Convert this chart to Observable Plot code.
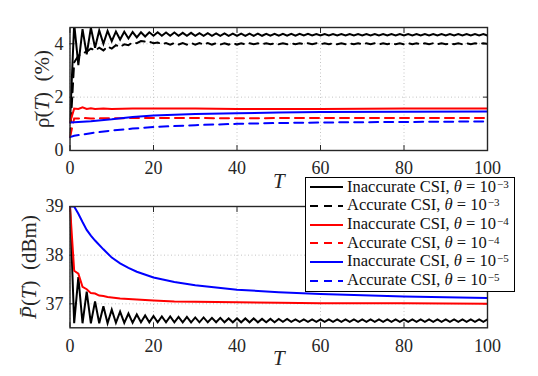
<!DOCTYPE html>
<html><head><meta charset="utf-8">
<script src="https://cdn.jsdelivr.net/npm/d3@7"></script>
<script src="https://cdn.jsdelivr.net/npm/@observablehq/plot@0.6"></script>
<style>
html,body{margin:0;padding:0;background:#fff;}
#wrap{position:relative;width:538px;height:376px;overflow:hidden;font-family:'Liberation Serif','Times New Roman','DejaVu Serif',serif;background:#fff;}
#wrap svg.plot{position:absolute;left:0;}
#wrap svg text{font-family:'Liberation Serif','Times New Roman','DejaVu Serif',serif;}
#legend{position:absolute;left:305px;top:177px;width:210px;height:115px;box-sizing:border-box;border:1px solid #000;background:#fff;padding-top:0px;font-size:16.5px;color:#111;}
#legend .row{height:18.7px;line-height:18.7px;white-space:nowrap;display:flex;align-items:center;}
#legend svg{margin-left:4px;margin-right:4px;flex:none;}
#legend .sup{font-size:11px;position:relative;top:-0.35em;margin-left:1px;}
</style></head>
<body><div id="wrap"></div>
<script>
// ---------- data ----------
const xTicks = [0, 20, 40, 60, 80, 100];
const rhoTicks = [0, 2, 4];
const powTicks = [37, 38, 39];
const seriesNames = ["Inaccurate CSI", "Accurate CSI", "Inaccurate CSI", "Accurate CSI", "Inaccurate CSI", "Accurate CSI"];
const seriesExp = ["−3", "−3", "−4", "−4", "−5", "−5"];

// step index T = 0..100 for the full (oscillating) series
const stepT = d3.range(0, 101);

// top panel: rho(T) in %
const rhoBlackInacc = [
1.05,4.75,3.20,4.55,3.60,4.60,3.85,4.50,4.00,4.48,
4.10,4.46,4.16,4.45,4.20,4.44,4.24,4.43,4.27,4.43,
4.30,4.43,4.30,4.42,4.30,4.42,4.30,4.41,4.30,4.41,
4.30,4.40,4.30,4.40,4.30,4.39,4.30,4.39,4.30,4.38,
4.30,4.38,4.30,4.38,4.30,4.38,4.30,4.37,4.30,4.37,
4.30,4.37,4.30,4.37,4.30,4.37,4.31,4.37,4.31,4.36,
4.31,4.36,4.31,4.36,4.31,4.36,4.31,4.36,4.31,4.36,
4.31,4.36,4.31,4.36,4.31,4.36,4.31,4.36,4.31,4.36,
4.31,4.36,4.31,4.36,4.31,4.36,4.31,4.36,4.31,4.36,
4.31,4.36,4.31,4.36,4.31,4.36,4.31,4.36,4.31,4.36,
4.31];
const rhoBlackAcc = [
0.50,3.30,3.55,3.65,3.70,3.82,3.75,3.85,3.75,3.90,
3.82,3.95,3.88,3.98,3.95,4.05,4.02,4.10,4.08,4.08,
4.02,4.05,3.98,4.03,3.97,4.03,3.97,4.03,3.97,4.03,
3.97,4.03,3.97,4.03,3.97,4.02,3.97,4.02,3.97,4.02,
3.97,4.02,3.98,4.02,3.98,4.02,3.98,4.02,3.98,4.02,
3.98,4.02,3.98,4.02,3.98,4.02,3.98,4.02,3.98,4.02,
3.98,4.02,3.98,4.02,3.98,4.02,3.98,4.02,3.98,4.02,
3.98,4.02,3.98,4.02,3.98,4.02,3.98,4.02,3.98,4.02,
3.98,4.02,3.98,4.02,3.98,4.02,3.98,4.02,3.98,4.02,
3.98,4.02,3.98,4.02,3.98,4.02,3.98,4.02,3.98,4.02,
4.00];
const rhoRedInaccT = [0, 1, 2, 3, 4, 5, 6, 8, 10, 15, 20, 30, 40, 60, 80, 100];
const rhoRedInacc  = [1.05, 1.57, 1.56, 1.62, 1.56, 1.58, 1.56, 1.57, 1.56, 1.57, 1.57, 1.57, 1.56, 1.56, 1.57, 1.57];
const rhoRedAccT = [0, 1, 2, 3, 5, 10, 20, 40, 60, 100];
const rhoRedAcc  = [0.50, 1.20, 1.20, 1.22, 1.20, 1.21, 1.22, 1.21, 1.22, 1.22];
const rhoBlueInaccT = [0, 1, 2, 5, 10, 15, 20, 25, 30, 40, 50, 60, 80, 100];
const rhoBlueInacc  = [1.05, 1.06, 1.07, 1.10, 1.17, 1.26, 1.31, 1.34, 1.37, 1.40, 1.42, 1.44, 1.45, 1.46];
const rhoBlueAccT = [0, 1, 5, 10, 15, 20, 30, 40, 50, 60, 80, 100];
const rhoBlueAcc  = [0.50, 0.55, 0.65, 0.75, 0.82, 0.88, 0.95, 1.00, 1.03, 1.05, 1.07, 1.09];

// bottom panel: P(T) in dBm
const powBlackInacc = [
39.00,36.60,37.55,36.60,37.25,36.60,37.05,36.60,36.95,36.60,
36.88,36.61,36.84,36.61,36.80,36.61,36.78,36.62,36.76,36.62,
36.75,36.62,36.74,36.62,36.74,36.62,36.73,36.62,36.73,36.62,
36.72,36.62,36.72,36.62,36.71,36.62,36.71,36.62,36.70,36.62,
36.70,36.62,36.70,36.62,36.70,36.62,36.69,36.62,36.69,36.62,
36.69,36.63,36.69,36.63,36.68,36.63,36.68,36.63,36.68,36.63,
36.68,36.63,36.68,36.63,36.68,36.63,36.68,36.63,36.68,36.63,
36.68,36.63,36.68,36.63,36.68,36.63,36.68,36.63,36.68,36.63,
36.68,36.63,36.68,36.63,36.68,36.63,36.68,36.63,36.68,36.63,
36.68,36.63,36.68,36.63,36.68,36.63,36.68,36.63,36.68,36.63,
36.68];
const powRedT = [0, 1, 2, 3, 4, 5, 6, 7, 8, 9, 10, 12, 14, 16, 18, 20, 25, 30, 40, 50, 60, 80, 100];
const powRed  = [39.00, 37.68, 37.62, 37.35, 37.30, 37.22, 37.21, 37.17, 37.16, 37.14, 37.13, 37.11, 37.10, 37.09, 37.08, 37.07, 37.05, 37.04, 37.03, 37.02, 37.01, 37.01, 37.00];
const powBlueT = [0, 1, 2, 3, 4, 5, 6, 8, 10, 12, 14, 16, 20, 25, 30, 40, 50, 60, 80, 100];
const powBlue  = [39.00, 39.00, 38.85, 38.68, 38.52, 38.40, 38.30, 38.12, 37.95, 37.83, 37.74, 37.66, 37.54, 37.45, 37.38, 37.29, 37.24, 37.20, 37.15, 37.12];

// ---------- styles ----------
const colors = ["#000000", "#000000", "#ff0000", "#ff0000", "#0000ff", "#0000ff"];
const dashed = [false, true, false, true, false, true];
const DASH = "9,6";
const AX = "#262626";
const FONT = "'Liberation Serif','Times New Roman','DejaVu Serif',serif";

const toRows = (T, V) => T.map((t, i) => ({T: t, v: V[i]}));
const full = V => toRows(stepT, V);

function lineMark(rows, k) {
  return Plot.line(rows, {x: "T", y: "v", stroke: colors[k], strokeWidth: 2,
    strokeDasharray: dashed[k] ? DASH : null, clip: true, strokeLinejoin: "miter", strokeMiterlimit: 4});
}

function axes(yTicks) {
  const common = {stroke: AX, color: AX, label: null, tickSize: -5, fontSize: 18};
  const grid = {stroke: "#c4c4c4", strokeOpacity: 1, strokeWidth: 1, strokeDasharray: "1,2.5"};
  return [
    Plot.gridX(xTicks, grid),
    Plot.gridY(yTicks, grid),
    Plot.axisX(xTicks, {...common, anchor: "bottom", tickPadding: 16}),
    Plot.axisX(xTicks, {...common, anchor: "top", tickFormat: () => ""}),
    Plot.axisY(yTicks, {...common, anchor: "left", tickPadding: 11.5}),
    Plot.axisY(yTicks, {...common, anchor: "right", tickFormat: () => ""})
  ];
}

const wrap = document.getElementById("wrap");

// ---------- top panel ----------
const p1 = Plot.plot({
  width: 538, height: 196,
  marginLeft: 69.5, marginRight: 51, marginTop: 27, marginBottom: 46,
  x: {domain: [0, 100]},
  y: {domain: [0, 4.61]},
  style: {fontFamily: FONT, fontSize: "18px", color: AX, background: "transparent"},
  marks: [
    ...axes(rhoTicks),
    lineMark(full(rhoBlackInacc), 0),
    lineMark(full(rhoBlackAcc), 1),
    lineMark(toRows(rhoRedInaccT, rhoRedInacc), 2),
    lineMark(toRows(rhoRedAccT, rhoRedAcc), 3),
    lineMark(toRows(rhoBlueInaccT, rhoBlueInacc), 4),
    lineMark(toRows(rhoBlueAccT, rhoBlueAcc), 5),
    Plot.frame({stroke: AX, strokeWidth: 1.4}),
    Plot.text(["T"], {frameAnchor: "bottom", dy: 37, fontStyle: "italic", fontSize: 21, fill: AX})
  ]
});
p1.classList.add("plot");
p1.style.top = "0px";
wrap.appendChild(p1);

// ---------- bottom panel ----------
const p2 = Plot.plot({
  width: 538, height: 180,
  marginLeft: 69.5, marginRight: 51, marginTop: 10, marginBottom: 48.7,
  x: {domain: [0, 100]},
  y: {domain: [36.507, 39]},
  style: {fontFamily: FONT, fontSize: "18px", color: AX, background: "transparent"},
  marks: [
    ...axes(powTicks),
    lineMark(full(powBlackInacc), 0),
    lineMark(toRows(powRedT, powRed), 2),
    lineMark(toRows(powBlueT, powBlue), 4),
    Plot.frame({stroke: AX, strokeWidth: 1.4}),
    Plot.text(["T"], {frameAnchor: "bottom", dy: 37, fontStyle: "italic", fontSize: 21, fill: AX})
  ]
});
p2.classList.add("plot");
p2.style.top = "196px";
wrap.appendChild(p2);

// ---------- y-axis titles (mixed italic) ----------
function yTitle(svg, x, y, sym, symItalic, rest) {
  const t = d3.select(svg).append("text")
    .attr("transform", `translate(${x},${y}) rotate(-90)`)
    .attr("text-anchor", "middle").attr("dominant-baseline", "middle")
    .style("font-family", FONT).attr("font-size", 21).attr("fill", AX);
  t.append("tspan").attr("font-style", symItalic ? "italic" : "normal").text(sym);
  t.append("tspan").text("(");
  t.append("tspan").attr("font-style", "italic").text("T");
  t.append("tspan").text(rest);
}
yTitle(p1, 44, 89, "ρ\u0304", false, ")\u2002(%)");
yTitle(p2, 31, 71, "P\u0304", true, ")\u2002(dBm)");

// ---------- legend ----------
const leg = document.createElement("div");
leg.id = "legend";
seriesNames.forEach((name, k) => {
  const row = document.createElement("div");
  row.className = "row";
  const s = d3.create("svg").attr("width", 33).attr("height", 6);
  s.append("line").attr("x1", 0).attr("x2", 33).attr("y1", 3).attr("y2", 3)
    .attr("stroke", colors[k]).attr("stroke-width", 2)
    .attr("stroke-dasharray", dashed[k] ? "8,6" : null);
  row.appendChild(s.node());
  const span = document.createElement("span");
  span.innerHTML = `${name}, <i>θ</i> = 10<span class="sup">${seriesExp[k]}</span>`;
  row.appendChild(span);
  leg.appendChild(row);
});
wrap.appendChild(leg);
</script>
</body></html>
